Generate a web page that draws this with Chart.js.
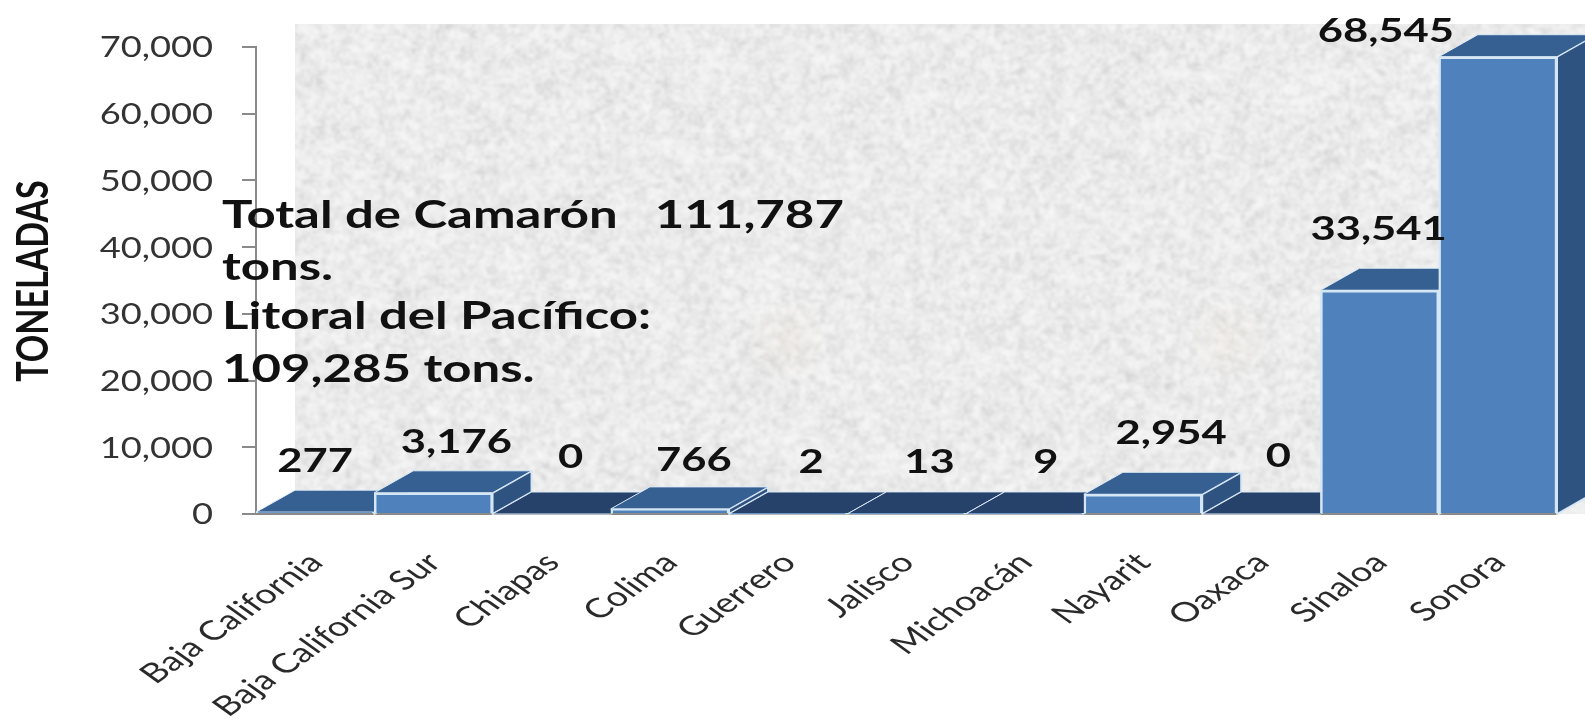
<!DOCTYPE html>
<html>
<head>
<meta charset="utf-8">
<title>Camarón</title>
<script src="https://cdn.jsdelivr.net/npm/chart.js@4"></script>
<style>
html, body { margin: 0; padding: 0; background: #fff; overflow: hidden; }
#wrap { width: 1585px; height: 721px; position: relative; }
#chart { filter: blur(0.5px); }
</style>
</head>
<body>
<div id="wrap"><canvas id="chart"></canvas></div>
<script>
var estados = ['Baja California', 'Baja California Sur', 'Chiapas', 'Colima', 'Guerrero', 'Jalisco', 'Michoacán', 'Nayarit', 'Oaxaca', 'Sinaloa', 'Sonora'];
var toneladas = [277, 3176, 0, 766, 2, 13, 9, 2954, 0, 33541, 68545];
var etiquetas = ['277', '3,176', '0', '766', '2', '13', '9', '2,954', '0', '33,541', '68,545'];
var yTicks = ['0', '10,000', '20,000', '30,000', '40,000', '50,000', '60,000', '70,000'];
var nota = ['Total de Camarón   111,787', 'tons.', 'Litoral del Pacífico:', '109,285 tons.'];

// label offsets from bar centre / baseline (labels were moved by hand in the original)
var labelDx = [0, 23, 19, 24, 23, 23, 21, 28, 17, -1, -112];
var labelDy = [-52, -71, -56, -53, -51, -51, -51, -80, -57, -284, -482];
var notaY = [216, 268, 317, 370];

var DEPTH_X = 39, DEPTH_Y = 22;

// the source picture is a stretched slide, so text gets a horizontal scale
function stretchText(ctx, text, x, y, font, color, align, stretch, angle) {
    ctx.save();
    ctx.font = font;
    ctx.fillStyle = color;
    ctx.textAlign = align || 'left';
    ctx.textBaseline = 'middle';
    ctx.translate(x, y);
    ctx.scale(stretch, 1);
    if (angle) ctx.rotate(angle);
    ctx.fillText(text, 0, 0);
    ctx.restore();
}

// mottled grey paper behind the plot
function makeTexture(w, h) {
    var layer = function (scale) {
        var c = document.createElement('canvas');
        c.width = Math.ceil(w / scale);
        c.height = Math.ceil(h / scale);
        var g = c.getContext('2d');
        var img = g.createImageData(c.width, c.height);
        var seed = 12345 + scale;
        for (var i = 0; i < img.data.length; i += 4) {
            seed = (seed * 1103515245 + 12345) & 0x7fffffff;
            var v = (seed >> 8) & 255;
            img.data[i] = img.data[i + 1] = img.data[i + 2] = v;
            img.data[i + 3] = 255;
        }
        g.putImageData(img, 0, 0);
        return c;
    };
    var out = document.createElement('canvas');
    out.width = w;
    out.height = h;
    var o = out.getContext('2d');
    o.fillStyle = '#ececec';
    o.fillRect(0, 0, w, h);
    o.globalCompositeOperation = 'overlay';
    o.globalAlpha = 0.5;
    o.filter = 'blur(0.8px)';
    o.drawImage(layer(3), 0, 0, w, h);
    o.globalAlpha = 0.5;
    o.filter = 'blur(1.5px)';
    o.drawImage(layer(5), 0, 0, w, h);
    o.globalAlpha = 0.14;
    o.filter = 'blur(5px)';
    o.drawImage(layer(16), 0, 0, w, h);
    return out;
}

var paperPlugin = {
    id: 'paper',
    beforeDraw: function (chart) {
        var ctx = chart.ctx;
        var base = chart.scales.y.getPixelForValue(0);
        var top = 24, left = 295;
        ctx.save();
        ctx.drawImage(makeTexture(chart.width - left, Math.round(base - top)), left, top);
        // two faint warm smudges in the paper
        [[788, 340], [1228, 340]].forEach(function (p) {
            var g = ctx.createRadialGradient(p[0], p[1], 2, p[0], p[1], 40);
            g.addColorStop(0, 'rgba(240,225,205,0.22)');
            g.addColorStop(1, 'rgba(240,225,205,0)');
            ctx.fillStyle = g;
            ctx.fillRect(p[0] - 40, p[1] - 40, 80, 80);
        });
        ctx.restore();
    }
};

var depthPlugin = {
    id: 'depth',
    beforeDatasetsDraw: function (chart) {
        var ctx = chart.ctx;
        var base = chart.scales.y.getPixelForValue(0);
        var bars = chart.getDatasetMeta(0).data;
        ctx.save();
        ctx.lineJoin = 'round';
        bars.forEach(function (bar, i) {
            var half = bar.width / 2, x0 = bar.x - half, x1 = bar.x + half, y = bar.y;
            // side face
            if (toneladas[i] >= 100) {
                ctx.beginPath();
                ctx.moveTo(x1, y);
                ctx.lineTo(x1 + DEPTH_X, y - DEPTH_Y);
                ctx.lineTo(x1 + DEPTH_X, base - DEPTH_Y);
                ctx.lineTo(x1, base);
                ctx.closePath();
                ctx.fillStyle = '#2f5380';
                ctx.fill();
                ctx.strokeStyle = '#d5e6f5';
                ctx.lineWidth = 2;
                ctx.stroke();
            }
            // top face, nearly empty states only show the dark floor
            ctx.beginPath();
            ctx.moveTo(x0, y);
            ctx.lineTo(x1, y);
            ctx.lineTo(x1 + DEPTH_X, y - DEPTH_Y);
            ctx.lineTo(x0 + DEPTH_X, y - DEPTH_Y);
            ctx.closePath();
            ctx.fillStyle = toneladas[i] >= 100 ? '#376092' : '#26426a';
            ctx.fill();
            ctx.strokeStyle = '#dcebf7';
            ctx.lineWidth = 1;
            ctx.stroke();
        });
        ctx.restore();
    }
};

var textPlugin = {
    id: 'texts',
    afterDraw: function (chart) {
        var ctx = chart.ctx;
        var yScale = chart.scales.y, xScale = chart.scales.x;
        var base = yScale.getPixelForValue(0);

        yTicks.forEach(function (t, i) {
            stretchText(ctx, t, 213, yScale.getPixelForValue(i * 10000) + 1, '29px Lato', '#333', 'right', 1.25);
        });

        estados.forEach(function (name, i) {
            stretchText(ctx, name, xScale.getPixelForValue(i) + 1, base + 44, '27px Lato', '#2a2a2a', 'right', 1.4, -Math.PI / 4);
        });

        etiquetas.forEach(function (t, i) {
            var x = xScale.getPixelForValue(i) + labelDx[i];
            stretchText(ctx, t, x, base + labelDy[i], 'bold 32px Lato', '#111', 'center', 1.36);
        });

        stretchText(ctx, 'TONELADAS', 34, 281, 'bold 34px Lato', '#111', 'center', 1.3, -Math.PI / 2);

        nota.forEach(function (line, i) {
            stretchText(ctx, line, 222, notaY[i], 'bold 38px Lato', '#111', 'left', 1.34);
        });
    }
};

new Chart(document.getElementById('chart').getContext('2d'), {
    type: 'bar',
    data: {
        labels: estados,
        datasets: [{
            label: 'Toneladas',
            data: toneladas,
            backgroundColor: '#4f81bd',
            borderColor: '#d5e6f5',
            borderWidth: 2.5,
            barPercentage: 1,
            categoryPercentage: 1
        }]
    },
    plugins: [paperPlugin, depthPlugin, textPlugin],
    options: {
        responsive: true,
        maintainAspectRatio: false,
        animation: false,
        layout: { padding: { left: 242, right: 28, top: 47, bottom: 207 } },
        plugins: { legend: { display: false }, tooltip: { enabled: false } },
        scales: {
            x: {
                grid: { display: false, drawTicks: false },
                border: { color: '#8a8a8a', width: 2 },
                ticks: { display: false }
            },
            y: {
                min: 0,
                max: 70000,
                afterBuildTicks: function (axis) {
                    axis.ticks = yTicks.map(function (t, i) { return { value: i * 10000 }; });
                },
                grid: { drawOnChartArea: false, color: '#8a8a8a', lineWidth: 2, tickLength: 14 },
                border: { color: '#8a8a8a', width: 2 },
                ticks: { display: false }
            }
        }
    }
});
</script>
</body>
</html>
